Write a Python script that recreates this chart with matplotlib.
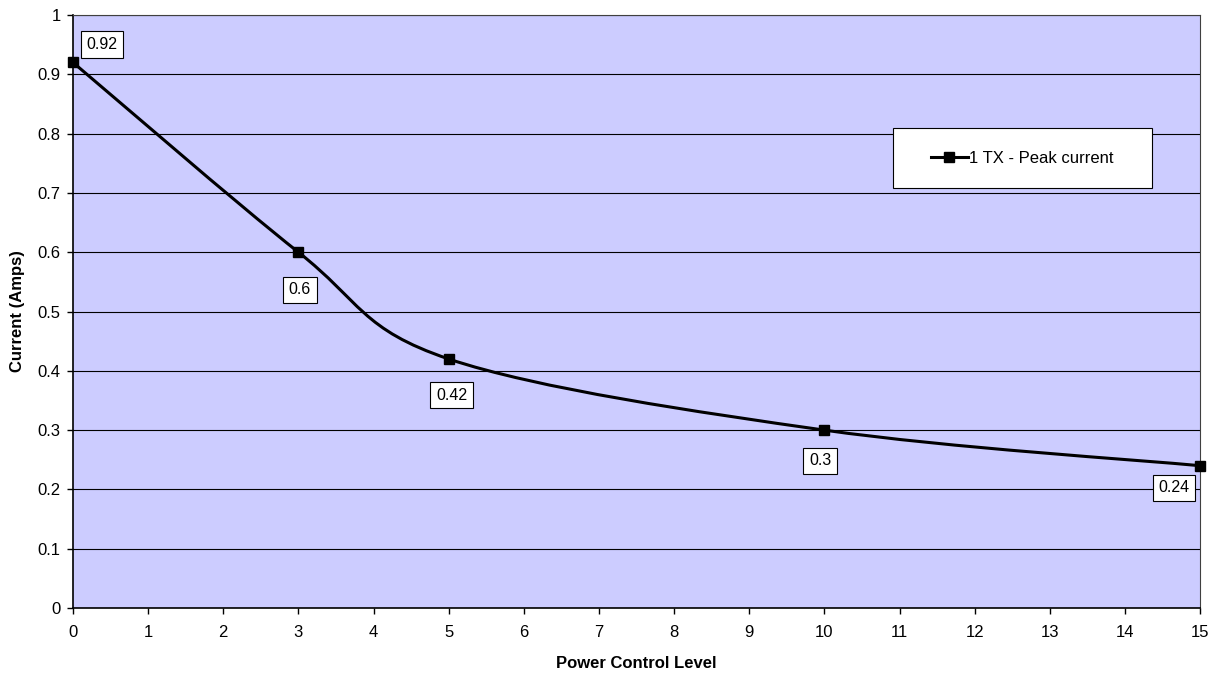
import matplotlib.pyplot as plt
from matplotlib.path import Path
from matplotlib.patches import PathPatch, Rectangle
from matplotlib.lines import Line2D
from matplotlib.ticker import FuncFormatter

plt.rcParams['font.family'] = ['Liberation Sans', 'DejaVu Sans']

power_level = [0, 3, 5, 10, 15]
peak_current = [0.92, 0.6, 0.42, 0.3, 0.24]
series_name = "1 TX - Peak current"
label_offsets = [(21, 13), (1, -27), (2, -26), (-3, -22), (-19, -16)]

fig = plt.figure(figsize=(12.15, 6.77), dpi=100)
ax = fig.add_axes([0.0601, 0.1019, 0.9276, 0.8759])
ax.set_facecolor("#CCCCFF")


# smoothed line like Excel (Catmull-Rom bezier through the points)
def smooth_path(xs, ys):
    pts = list(zip(xs, ys))
    verts = [pts[0]]
    codes = [Path.MOVETO]
    n = len(pts)
    for i in range(n - 1):
        p0 = pts[max(i - 1, 0)]
        p1 = pts[i]
        p2 = pts[i + 1]
        p3 = pts[min(i + 2, n - 1)]
        c1 = (p1[0] + (p2[0] - p0[0]) / 6, p1[1] + (p2[1] - p0[1]) / 6)
        c2 = (p2[0] - (p3[0] - p1[0]) / 6, p2[1] - (p3[1] - p1[1]) / 6)
        verts += [c1, c2, p2]
        codes += [Path.CURVE4] * 3
    return Path(verts, codes)


ax.add_patch(PathPatch(smooth_path(power_level, peak_current), facecolor="none",
                       edgecolor="black", lw=2.2, zorder=3, clip_on=False))
ax.plot(power_level, peak_current, ls="none", marker="s", ms=7, color="black",
        zorder=4, clip_on=False)

for x, y, off in zip(power_level, peak_current, label_offsets):
    ax.annotate(f"{y:g}", (x, y), xytext=off, textcoords="offset points",
                ha="center", va="center", fontsize=11.5, zorder=6,
                bbox=dict(boxstyle="square,pad=0.35", fc="white", ec="black", lw=0.8))

ax.set_xlim(0, 15)
ax.set_ylim(0, 1)
ax.set_xticks(range(0, 16))
ax.set_yticks([i / 10 for i in range(11)])
ax.yaxis.set_major_formatter(FuncFormatter(lambda v, p: f"{v:g}"))
ax.tick_params(direction="out", length=4, width=1, labelsize=12, pad=5, color="black")
ax.tick_params(axis="x", pad=8.5)
ax.grid(axis="y", color="black", lw=0.8)
ax.set_axisbelow(True)
for s in ["top", "right"]:
    ax.spines[s].set_color("#404040")
    ax.spines[s].set_linewidth(0.8)
for s in ["left", "bottom"]:
    ax.spines[s].set_linewidth(1.2)

ax.set_xlabel("Power Control Level", fontsize=12, fontweight="bold", labelpad=11)
ax.set_ylabel("Current (Amps)", fontsize=12, fontweight="bold", labelpad=9)

# legend box
ax.add_patch(Rectangle((0.7276, 0.7083), 0.2298, 0.1011, transform=ax.transAxes,
                       fc="white", ec="black", lw=0.8, zorder=5))
handle = Line2D([], [], color="black", lw=2.2, marker="s", ms=7)
leg = ax.legend([handle], [series_name], loc="center",
                bbox_to_anchor=(0.7276 + 0.1149, 0.7083 + 0.0505),
                frameon=False, fontsize=12, handlelength=2.2, handletextpad=0.1)
leg.set_zorder(6)

fig.savefig("out.png", dpi=100)
